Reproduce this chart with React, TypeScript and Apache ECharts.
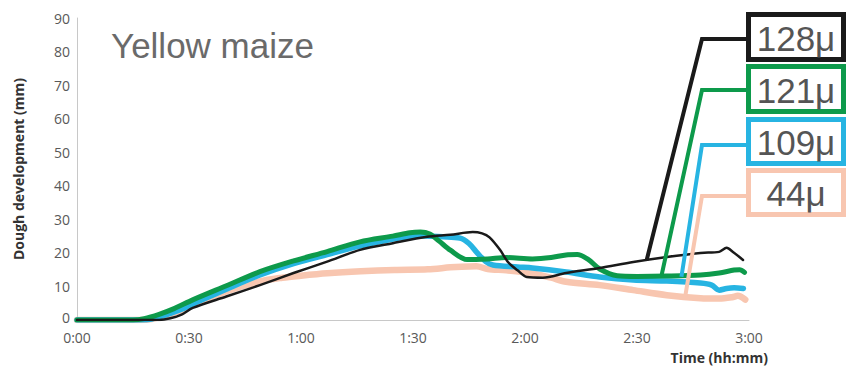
import React, { useEffect, useRef } from "react";
import * as echarts from "echarts";

// [minutes, mm]
const peach44: number[][] = [
  [0, 0], [17, 0], [20, 0.3], [24, 1.5], [28, 3], [32, 5], [40, 8.5], [49, 11.5], [55, 12.6],
  [60, 13.2], [67, 13.9], [76, 14.5], [85, 14.9], [94, 15.1], [100, 15.7], [103, 15.9], [107, 16],
  [110, 15.2], [115, 14.8], [122, 13.9], [127, 12.6], [131, 11.4], [140, 10.4], [149, 8.9],
  [158, 7.4], [167, 6.5], [172, 6.4], [175.5, 6.8], [177, 7.2], [179, 6.1],
];
const blue109: number[][] = [
  [0, 0], [17, 0], [20, 0.3], [24, 1.6], [28, 3.2], [32, 5.3], [40, 9.2], [49, 13.4], [58, 16.8],
  [67, 19.5], [76, 22.1], [85, 24.2], [89, 24.8], [93, 25], [98, 24.8], [102.6, 24.4], [105, 22.8],
  [107.2, 20], [109.5, 17.4], [111.4, 16.4], [118, 15.8], [122, 15.5], [131, 14.3], [140, 12.8],
  [149, 11.9], [158, 11.6], [167, 11], [170, 10.4], [172, 8.9], [174, 9.4], [176, 9.6], [178.5, 9.4],
];
const green121: number[][] = [
  [0, 0], [15, 0], [18, 0.4], [22, 1.7], [26, 3.4], [31, 6], [40, 10.2], [49, 14.4], [58, 17.6],
  [67, 20.4], [75.8, 23.3], [84.6, 25], [89.2, 26], [92, 26.2], [94.5, 25.6], [97, 23.5],
  [100, 20.8], [104.5, 18], [110, 18.2], [115, 18.6], [122, 18.2], [127, 18.6], [131, 19.4],
  [134, 19.5], [137, 18], [140, 15.2], [144.7, 13.2], [150, 13], [158, 13.1], [167, 13.4],
  [172, 14], [176, 14.9], [177.5, 15], [178.8, 14.2],
];
const black128: number[][] = [
  [0, 0], [22, 0], [25, 0.5], [28, 1.6], [31, 3.6], [40, 7], [49, 10.4], [58, 14], [67, 17.4],
  [75.8, 20.9], [84.6, 22.9], [93.8, 24.8], [100, 25.4], [106, 26.2], [108.5, 25.8], [110.5, 24.6],
  [113.3, 20.9], [115.5, 17.2], [118, 14.8], [120.5, 12.8], [124.8, 12.6], [131, 14], [140, 15.5],
  [149, 17.3], [158, 18.8], [167, 20], [172, 20.3], [174, 21.5], [175.7, 20.3], [178.4, 17.9],
];

const seriesNames = ["44μ", "109μ", "121μ", "128μ"];
const seriesData = [peach44, blue109, green121, black128];
const seriesColors = ["#f8c6b0", "#27b4e2", "#0d9a4b", "#1a1a1a"];
const seriesWidths = [6.5, 5.5, 5, 2.5];

// legend labels (top to bottom) and where each leader line meets its curve [minutes, mm]
const legendLabels = ["128μ", "121μ", "109μ", "44μ"];
const legendColors = ["#1a1a1a", "#0d9a4b", "#27b4e2", "#f8c6b0"];
const leaderAnchors: number[][] = [[152.6, 17.9], [156.6, 13.4], [161.9, 12.9], [162.9, 6.9]];

const xTicks = [0, 30, 60, 90, 120, 150, 180];
const fmtTime = (v: number) => `${Math.floor(v / 60)}:${String(v % 60).padStart(2, "0")}`;

export default function App() {
  const ref = useRef<HTMLDivElement>(null);
  useEffect(() => {
    const chart = echarts.init(ref.current!, null, { renderer: "svg" });
    chart.setOption({
      animation: false,
      backgroundColor: "#ffffff",
      title: {
        text: "Yellow maize",
        left: 111,
        top: 28,
        padding: 0,
        textStyle: { fontFamily: "Liberation Sans", fontSize: 35, fontWeight: "normal", color: "#6a6a6a" },
      },
      grid: { left: 77, right: 113, top: 18, bottom: 53 },
      xAxis: {
        type: "value",
        min: 0,
        max: 180,
        interval: 30,
        axisLine: { show: true, lineStyle: { color: "#c8c8c8", width: 1 } },
        axisTick: { show: false },
        splitLine: { show: false },
        axisLabel: {
          formatter: (v: number) => (xTicks.includes(v) ? fmtTime(v) : ""),
          fontFamily: "Open Sans",
          fontSize: 14,
          lineHeight: 14,
          color: "#595959",
          margin: 10,
        },
        name: "Time (hh:mm)",
        nameLocation: "end",
        nameGap: 19,
        nameTextStyle: {
          fontFamily: "Open Sans",
          fontWeight: "bold",
          fontSize: 14,
          color: "#333333",
          align: "right",
          verticalAlign: "top",
          padding: [30, 0, 0, 0],
        },
      },
      yAxis: {
        type: "value",
        min: 0,
        max: 90,
        interval: 10,
        axisLine: { show: true, lineStyle: { color: "#c8c8c8", width: 1 } },
        axisTick: { show: false },
        splitLine: { show: false },
        axisLabel: {
          formatter: (v: number) => (v === 0 ? "{z|0}" : String(v)),
          fontFamily: "Open Sans",
          fontSize: 14,
          lineHeight: 14,
          color: "#595959",
          margin: 7,
          rich: {
            z: { fontFamily: "Open Sans", fontSize: 14, lineHeight: 14, color: "#595959", padding: [0, 0, 6, 0] },
          },
        },
        name: "Dough development (mm)",
        nameLocation: "middle",
        nameRotate: 90,
        nameGap: 52,
        nameTextStyle: { fontFamily: "Open Sans", fontWeight: "bold", fontSize: 14, color: "#333333" },
      },
      series: seriesNames.map((n, i) => ({
        name: n,
        type: "line",
        data: seriesData[i],
        showSymbol: false,
        smooth: 0.3,
        lineStyle: { color: seriesColors[i], width: seriesWidths[i], cap: "round", join: "round" },
        z: 2 + i,
      })),
    });

    const tops = [12, 64, 117, 168];
    const bottoms = [62, 114, 166, 217];
    const leaderY = [39, 90, 145, 196];
    const boxLeft = 746;
    const boxRight = 846;
    const bw = 5;
    const elements: any[] = [];
    legendLabels.forEach((lab, i) => {
      const p = chart.convertToPixel({ xAxisIndex: 0, yAxisIndex: 0 }, leaderAnchors[i]) as number[];
      elements.push({
        type: "polyline",
        z: 20,
        shape: { points: [[boxLeft, leaderY[i]], [702, leaderY[i]], [p[0], p[1]]] },
        style: { stroke: legendColors[i], lineWidth: 4, fill: null },
      });
    });
    legendLabels.forEach((lab, i) => {
      elements.push({
        type: "rect",
        z: 21,
        shape: {
          x: boxLeft + bw / 2,
          y: tops[i] + bw / 2,
          width: boxRight - boxLeft - bw,
          height: bottoms[i] - tops[i] - bw,
        },
        style: { fill: "#ffffff", stroke: legendColors[i], lineWidth: bw },
      });
      elements.push({
        type: "text",
        z: 22,
        x: (boxLeft + boxRight) / 2,
        y: (tops[i] + bottoms[i]) / 2 + 1,
        style: {
          text: lab,
          fill: "#555555",
          font: '35px "Liberation Sans"',
          align: "center",
          verticalAlign: "middle",
          textAlign: "center",
          textVerticalAlign: "middle",
        },
      });
    });
    chart.setOption({ graphic: { elements } });
    return () => chart.dispose();
  }, []);
  return <div ref={ref} style={{ position: "absolute", left: 0, top: 0, width: 862, height: 373 }} />;
}
